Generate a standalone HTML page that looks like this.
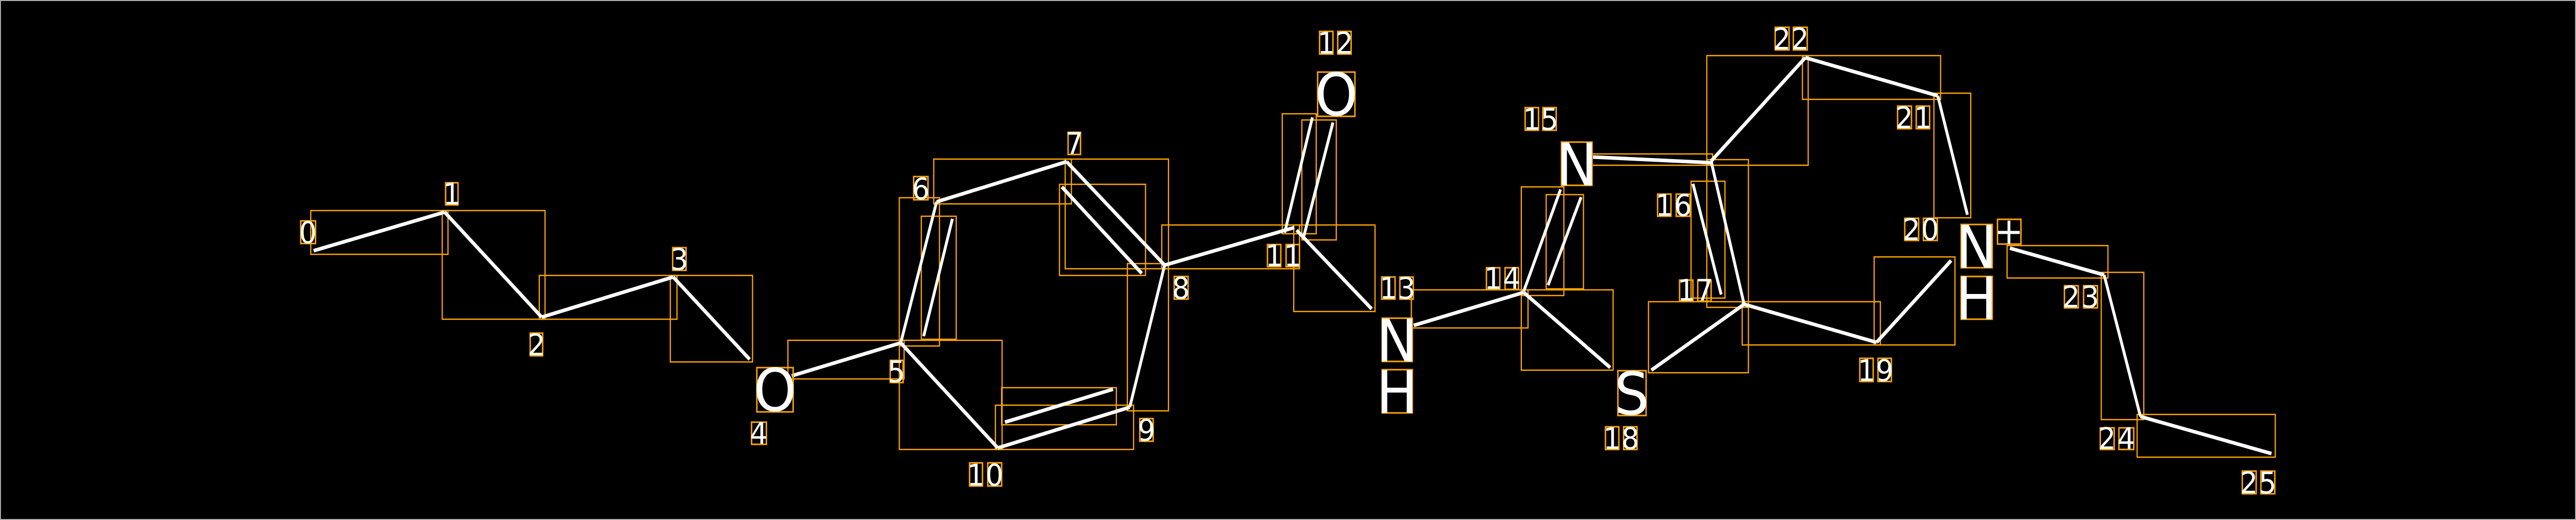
<!DOCTYPE html>
<html><head><meta charset="utf-8"><style>
html,body{margin:0;padding:0;background:#000;overflow:hidden;width:100%;height:100%;}
svg{display:block;position:fixed;left:0;top:0;width:100vw;height:100vh;}
text{font-family:"DejaVu Sans","Liberation Sans",sans-serif;fill:#fff;}
</style></head><body>
<svg viewBox="0 0 5388 1010" preserveAspectRatio="none" xmlns="http://www.w3.org/2000/svg">
<rect x="0" y="0" width="5388" height="1010" fill="#000"/>
<rect x="1" y="1" width="5386" height="1008" fill="none" stroke="#b0b0b0" stroke-width="2"/>
<g fill="none" stroke="#FFA500" stroke-width="2.5">
<rect x="650" y="409" width="287" height="85"/>
<rect x="925" y="409" width="215" height="211"/>
<rect x="1128" y="535" width="288" height="85"/>
<rect x="1402" y="535" width="172" height="168"/>
<rect x="1648" y="661" width="243" height="75"/>
<rect x="1881" y="384" width="84" height="288"/>
<rect x="1927" y="420" width="73" height="239"/>
<rect x="1953" y="309" width="288" height="87"/>
<rect x="2228" y="309" width="216" height="213"/>
<rect x="2216" y="358" width="180" height="177"/>
<rect x="2358" y="512" width="86" height="286"/>
<rect x="1881" y="661" width="215" height="212"/>
<rect x="2082" y="787" width="289" height="86"/>
<rect x="2095" y="753" width="240" height="72"/>
<rect x="2430" y="437" width="288" height="85"/>
<rect x="2706" y="437" width="170" height="168"/>
<rect x="2682" y="221" width="71" height="233"/>
<rect x="2723" y="233" width="72" height="233"/>
<rect x="2952" y="563" width="244" height="74"/>
<rect x="3182" y="363" width="89" height="211"/>
<rect x="3234" y="378" width="78" height="183"/>
<rect x="3182" y="563" width="192" height="156"/>
<rect x="3329" y="299" width="253" height="22"/>
<rect x="3570" y="108" width="212" height="213"/>
<rect x="3770" y="108" width="289" height="85"/>
<rect x="4045" y="181" width="77" height="242"/>
<rect x="3570" y="310" width="87" height="287"/>
<rect x="3537" y="352" width="71" height="227"/>
<rect x="3448" y="586" width="209" height="138"/>
<rect x="3644" y="586" width="289" height="84"/>
<rect x="3920" y="499" width="169" height="171"/>
<rect x="4198" y="477" width="211" height="63"/>
<rect x="4395" y="529" width="89" height="286"/>
<rect x="4470" y="805" width="289" height="83"/>
</g>
<g stroke="#fff" stroke-width="7" stroke-linecap="butt" fill="none">
<line x1="656" y1="487" x2="930" y2="412"/>
<line x1="930" y1="412" x2="1133" y2="616"/>
<line x1="1133" y1="616" x2="1408" y2="538"/>
<line x1="1408" y1="538" x2="1568" y2="698"/>
<line x1="1656" y1="730" x2="1884" y2="666"/>
<line x1="1884" y1="666" x2="1959" y2="392" stroke-width="6"/>
<line x1="1959" y1="392" x2="2231" y2="314"/>
<line x1="2231" y1="314" x2="2436" y2="515"/>
<line x1="2436" y1="515" x2="2363" y2="791" stroke-width="6"/>
<line x1="2363" y1="791" x2="2087" y2="870"/>
<line x1="2087" y1="870" x2="1884" y2="666"/>
<line x1="1992" y1="425" x2="1932" y2="653" stroke-width="6"/>
<line x1="2221" y1="363" x2="2388" y2="531"/>
<line x1="2328" y1="756" x2="2102" y2="820"/>
<line x1="2436" y1="515" x2="2707" y2="442"/>
<line x1="2687" y1="452" x2="2745" y2="228" stroke-width="6"/>
<line x1="2726" y1="463" x2="2788" y2="238" stroke-width="6"/>
<line x1="2712" y1="447" x2="2869" y2="600"/>
<line x1="2957" y1="632" x2="3187" y2="568"/>
<line x1="3187" y1="566" x2="3264" y2="368" stroke-width="6"/>
<line x1="3238" y1="554" x2="3307" y2="383" stroke-width="6"/>
<line x1="3187" y1="568" x2="3368" y2="714"/>
<line x1="3332" y1="305" x2="3579" y2="316"/>
<line x1="3579" y1="313" x2="3776" y2="112"/>
<line x1="3776" y1="112" x2="4053" y2="186"/>
<line x1="4053" y1="186" x2="4115" y2="417" stroke-width="6"/>
<line x1="3579" y1="313" x2="3648" y2="591" stroke-width="6"/>
<line x1="3541" y1="357" x2="3600" y2="572" stroke-width="6"/>
<line x1="3648" y1="591" x2="3454" y2="719"/>
<line x1="3648" y1="591" x2="3925" y2="665"/>
<line x1="3925" y1="665" x2="4081" y2="506"/>
<line x1="4204" y1="482" x2="4401" y2="534"/>
<line x1="4401" y1="534" x2="4477" y2="809" stroke-width="6"/>
<line x1="4477" y1="809" x2="4751" y2="881"/>
</g>
<g fill="none" stroke="#FFA500" stroke-width="3">
<rect x="1583" y="714" width="76" height="86"/>
<rect x="2756" y="140" width="78" height="86"/>
<rect x="2891" y="618" width="63" height="84"/>
<rect x="2891" y="718" width="63" height="84"/>
<rect x="3266" y="276" width="64" height="84"/>
<rect x="3384" y="720" width="59" height="87"/>
<rect x="4102" y="436" width="65" height="84"/>
<rect x="4102" y="537" width="65" height="83"/>
<rect x="4178" y="426" width="49" height="48"/>
</g>
<g font-size="114" text-anchor="middle">
<text x="1621" y="798">O</text>
<text x="2795" y="224">O</text>
<text x="2922" y="702">N</text>
<text x="2922" y="802">H</text>
<text x="3298" y="360">N</text>
<text x="3413" y="805">S</text>
<text x="4134" y="520">N</text>
<text x="4134" y="620">H</text>
</g>
<text x="4202" y="474" font-size="72" text-anchor="middle">+</text>
<g fill="none" stroke="#FFA500" stroke-width="3">
<rect x="629" y="429" width="31" height="44"/>
<rect x="932" y="355" width="26" height="43"/>
<rect x="1109" y="647" width="26" height="44"/>
<rect x="1407" y="481" width="28" height="44"/>
<rect x="1572" y="820" width="31" height="43"/>
<rect x="1862" y="700" width="27" height="43"/>
<rect x="1911" y="343" width="30" height="45"/>
<rect x="2234" y="257" width="26" height="43"/>
<rect x="2456" y="537" width="29" height="44"/>
<rect x="2384" y="813" width="28" height="44"/>
<rect x="2028" y="899" width="27" height="45"/><rect x="2066" y="899" width="29" height="45"/>
<rect x="2651" y="475" width="28" height="43"/><rect x="2690" y="475" width="28" height="43"/>
<rect x="2760" y="61" width="28" height="44"/><rect x="2798" y="61" width="28" height="44"/>
<rect x="2890" y="538" width="28" height="43"/><rect x="2928" y="538" width="28" height="43"/>
<rect x="3109" y="520" width="28" height="42"/><rect x="3148" y="520" width="28" height="42"/>
<rect x="3190" y="209" width="28" height="44"/><rect x="3227" y="209" width="28" height="44"/>
<rect x="3467" y="377" width="28" height="43"/><rect x="3506" y="377" width="29" height="43"/>
<rect x="3513" y="544" width="28" height="41"/><rect x="3551" y="544" width="28" height="41"/>
<rect x="3358" y="829" width="28" height="44"/><rect x="3396" y="829" width="28" height="44"/>
<rect x="3890" y="696" width="28" height="45"/><rect x="3928" y="696" width="28" height="45"/>
<rect x="3984" y="424" width="29" height="43"/><rect x="4023" y="424" width="29" height="43"/>
<rect x="3969" y="206" width="29" height="44"/><rect x="4008" y="206" width="28" height="44"/>
<rect x="3713" y="53" width="29" height="44"/><rect x="3751" y="53" width="29" height="44"/>
<rect x="4318" y="555" width="29" height="43"/><rect x="4358" y="555" width="29" height="43"/>
<rect x="4393" y="831" width="29" height="42"/><rect x="4432" y="831" width="31" height="42"/>
<rect x="4690" y="915" width="29" height="44"/><rect x="4729" y="915" width="29" height="44"/>
</g>
<g font-size="58" text-anchor="middle">
<text x="644" y="472">0</text>
<text x="945" y="397">1</text>
<text x="1122" y="690">2</text>
<text x="1421" y="524">3</text>
<text x="1587" y="862">4</text>
<text x="1875" y="742">5</text>
<text x="1926" y="387">6</text>
<text x="2247" y="299">7</text>
<text x="2470" y="580">8</text>
<text x="2398" y="856">9</text>
<text x="2041" y="943">1</text><text x="2080" y="943">0</text>
<text x="2665" y="517">1</text><text x="2704" y="517">1</text>
<text x="2774" y="104">1</text><text x="2812" y="104">2</text>
<text x="2904" y="580">1</text><text x="2942" y="580">3</text>
<text x="3123" y="561">1</text><text x="3162" y="561">4</text>
<text x="3204" y="252">1</text><text x="3241" y="252">5</text>
<text x="3481" y="419">1</text><text x="3520" y="419">6</text>
<text x="3527" y="584">1</text><text x="3565" y="584">7</text>
<text x="3372" y="872">1</text><text x="3410" y="872">8</text>
<text x="3904" y="740">1</text><text x="3942" y="740">9</text>
<text x="3998" y="466">2</text><text x="4037" y="466">0</text>
<text x="3983" y="249">2</text><text x="4022" y="249">1</text>
<text x="3727" y="96">2</text><text x="3765" y="96">2</text>
<text x="4332" y="597">2</text><text x="4372" y="597">3</text>
<text x="4407" y="872">2</text><text x="4447" y="872">4</text>
<text x="4704" y="958">2</text><text x="4743" y="958">5</text>
</g>
</svg>
</body></html>
